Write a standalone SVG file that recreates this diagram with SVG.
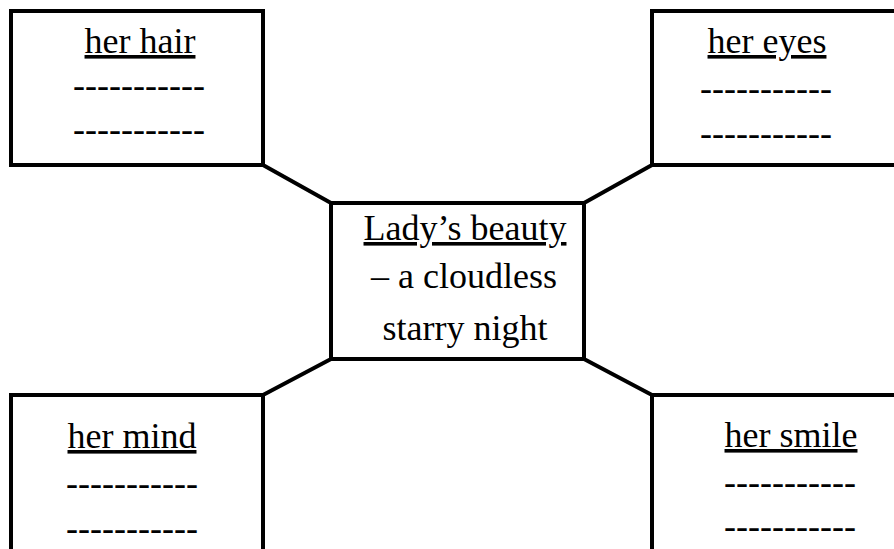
<svg xmlns="http://www.w3.org/2000/svg" width="894" height="549" viewBox="0 0 894 549">
<style>
.box{fill:none;stroke:#000;stroke-width:4;stroke-linejoin:miter}
.con{stroke:#000;stroke-width:4;fill:none;stroke-linecap:round}
.t{font-family:"Liberation Serif","Times New Roman",serif;font-size:36px;fill:#000;text-anchor:middle}
.u{text-decoration:underline}
</style>
<rect width="894" height="549" fill="#fff"/>
<g id="connectors">
<line class="con" x1="263" y1="165" x2="331" y2="203"/>
<line class="con" x1="652" y1="165" x2="584" y2="203"/>
<line class="con" x1="331" y1="359" x2="263" y2="395"/>
<line class="con" x1="584" y1="359" x2="652" y2="395"/>
</g>
<g id="center">
<rect class="box" x="331" y="203" width="253" height="156"/>
<text class="t u" x="465" y="240">Lady’s beauty</text>
<text class="t" x="464" y="288">– a cloudless</text>
<text class="t" x="465" y="340">starry night</text>
</g>
<g id="hair">
<rect class="box" x="11" y="11" width="252" height="154"/>
<text class="t u" x="140" y="53">her hair</text>
<text class="t" x="139" y="97">-----------</text>
<text class="t" x="139" y="141">-----------</text>
</g>
<g id="eyes">
<path class="box" d="M900 11 H652 V165 H900"/>
<text class="t u" x="767" y="53">her eyes</text>
<text class="t" x="766" y="100">-----------</text>
<text class="t" x="766" y="145">-----------</text>
</g>
<g id="mind">
<path class="box" d="M11 560 V395 H263 V560"/>
<text class="t u" x="132" y="448">her mind</text>
<text class="t" x="132" y="495">-----------</text>
<text class="t" x="132" y="540">-----------</text>
</g>
<g id="smile">
<path class="box" d="M652 560 V395 H900"/>
<text class="t u" x="791" y="447">her smile</text>
<text class="t" x="790" y="494">-----------</text>
<text class="t" x="790" y="538">-----------</text>
</g>
</svg>
